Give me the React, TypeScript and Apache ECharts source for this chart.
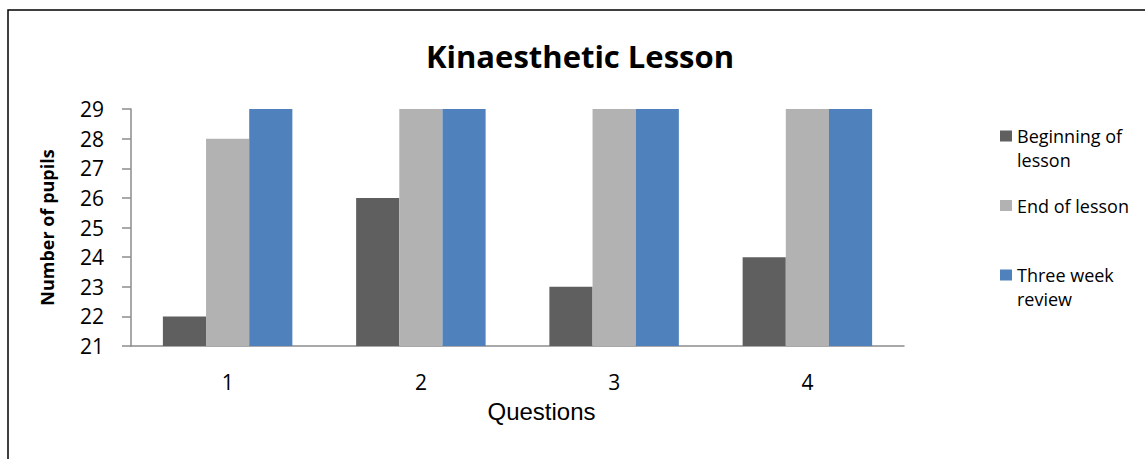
import React, { useEffect, useRef } from "react";
import * as echarts from "echarts";

const categories = ["1", "2", "3", "4"];
const beginning = [22, 26, 23, 24];
const endOfLesson = [28, 29, 29, 29];
const threeWeek = [29, 29, 29, 29];
const seriesNames = ["Beginning of lesson", "End of lesson", "Three week review"];
const legendFirstLines = ["Beginning of", "End of lesson", "Three week"];
const legendSecondLines = ["lesson", "", "review"];
const colors = ["#5f5f5f", "#b2b2b2", "#4f81bd"];

const FONT = "'Open Sans', 'Noto Sans', sans-serif";
const ARIAL = "'Liberation Sans', Arial, sans-serif";

export default function App() {
  const ref = useRef<HTMLDivElement>(null);
  useEffect(() => {
    if (!ref.current) return;
    const chart = echarts.init(ref.current, null, { renderer: "svg" });
    const data = [beginning, endOfLesson, threeWeek];
    const markerCenters = [136, 205.5, 275];
    const secondLines: any[] = [];
    legendSecondLines.forEach((t, i) => {
      if (!t) return;
      secondLines.push({
        type: "text",
        x: 1017,
        y: markerCenters[i] + 24,
        style: {
          text: t,
          font: `18px ${FONT}`,
          fill: "#000",
          verticalAlign: "middle",
          align: "left",
        },
        silent: true,
      });
    });
    chart.setOption({
      animation: false,
      backgroundColor: "#ffffff",
      title: {
        text: "Kinaesthetic Lesson",
        left: 580,
        textAlign: "center",
        top: 40,
        padding: 0,
        textStyle: { fontFamily: FONT, fontWeight: "bold", fontSize: 31, color: "#000" },
      },
      legend: seriesNames.map((n, i) => ({
        data: [n],
        orient: "vertical",
        left: 1000,
        top: markerCenters[i] - 12,
        padding: 0,
        itemWidth: 12,
        itemHeight: 11,
        icon: "rect",
        itemGap: 0,
        formatter: () => legendFirstLines[i],
        textStyle: { fontFamily: FONT, fontSize: 18, color: "#000", lineHeight: 24 },
      })),
      grid: { left: 131, right: 241, top: 109, bottom: 113, containLabel: false },
      xAxis: {
        type: "category",
        data: categories,
        name: "Questions",
        nameLocation: "middle",
        nameGap: 53,
        nameTextStyle: { fontFamily: ARIAL, fontSize: 24, color: "#000", padding: [0, 0, 0, 48] },
        axisLine: { lineStyle: { color: "#8c8c8c", width: 1.5 } },
        axisTick: { show: false },
        axisLabel: { fontFamily: FONT, fontSize: 21, color: "#000", margin: 25 },
      },
      yAxis: {
        type: "value",
        min: 21,
        max: 29,
        interval: 1,
        name: "Number of pupils",
        nameLocation: "middle",
        nameGap: 75,
        nameTextStyle: { fontFamily: FONT, fontSize: 18, fontWeight: "bold", color: "#000" },
        axisLine: { show: true, lineStyle: { color: "#8c8c8c", width: 1.5 } },
        axisTick: { show: true, length: 9, lineStyle: { color: "#8c8c8c", width: 1.5 } },
        splitLine: { show: false },
        axisLabel: { fontFamily: FONT, fontSize: 21, color: "#000", margin: 27 },
      },
      series: seriesNames.map((n, i) => ({
        name: n,
        type: "bar",
        data: data[i],
        barGap: "0%",
        barCategoryGap: "33%",
        itemStyle: { color: colors[i] },
      })),
      graphic: [
        {
          type: "rect",
          shape: { x: 8, y: 10, width: 1300, height: 600 },
          style: { fill: "none", stroke: "#000", lineWidth: 1.5 },
          silent: true,
        },
        ...secondLines,
      ],
    });
    return () => chart.dispose();
  }, []);
  return (
    <div
      ref={ref}
      style={{ position: "fixed", left: 0, top: 0, width: 1145, height: 459 }}
    />
  );
}
